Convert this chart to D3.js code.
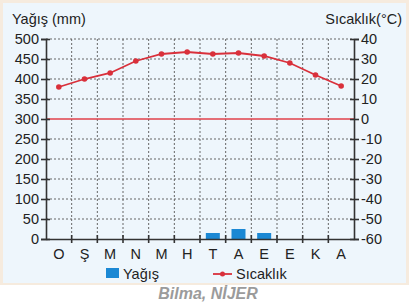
<!DOCTYPE html>
<html>
<head>
<meta charset="utf-8">
<script src="https://cdn.jsdelivr.net/npm/d3@7"></script>
<style>
  body { margin: 0; background: #fff; }
  svg { display: block; font-family: "Liberation Sans", Arial, sans-serif; }
</style>
</head>
<body>
<svg id="chart" width="413" height="304"></svg>
<script>
// months (Turkish initials)
const months = ["O", "Ş", "M", "N", "M", "H", "T", "A", "E", "E", "K", "A"];
// precipitation (mm)
const rain = [0, 0, 0, 0, 0, 0, 15, 25, 15, 0, 0, 0];
// temperature (°C)
const temp = [16, 20, 23, 29, 32.5, 33.5, 32.5, 33, 31.5, 28, 22, 16.5];
const rainTicks = [0, 50, 100, 150, 200, 250, 300, 350, 400, 450, 500];
const tempTicks = [-60, -50, -40, -30, -20, -10, 0, 10, 20, 30, 40];

const svg = d3.select("#chart");
const plotL = 46, plotR = 354, plotT = 39, plotB = 239;

// background frame + panel
svg.append("rect").attr("x", 0).attr("y", 0).attr("width", 409).attr("height", 285).attr("fill", "#f6ebde");
svg.append("rect").attr("x", 3).attr("y", 3).attr("width", 403).attr("height", 280).attr("fill", "#eef6fc");

const x = d3.scaleBand().domain(d3.range(12)).range([plotL, plotR]);
const yP = d3.scaleLinear().domain([0, 500]).range([plotB, plotT]);
const yT = d3.scaleLinear().domain([-60, 40]).range([plotB, plotT]);

// grid
const grid = svg.append("g");
grid.selectAll(".hg")
    .data(rainTicks.filter(d => d !== 0 && d !== 300))
    .enter().append("line")
    .attr("x1", plotL).attr("x2", plotR)
    .attr("y1", d => yP(d)).attr("y2", d => yP(d))
    .attr("stroke", "#666").attr("stroke-width", 1).attr("stroke-dasharray", "2,2");
grid.selectAll(".vg")
    .data(d3.range(1, 12))
    .enter().append("line")
    .attr("x1", d => plotL + d * x.step()).attr("x2", d => plotL + d * x.step())
    .attr("y1", plotT).attr("y2", plotB)
    .attr("stroke", "#666").attr("stroke-width", 1).attr("stroke-dasharray", "2,2");

// 0°C line
svg.append("line")
    .attr("x1", plotL).attr("x2", plotR)
    .attr("y1", yT(0)).attr("y2", yT(0))
    .attr("stroke", "#e0414b").attr("stroke-width", 1.4);

// bars
const bw = 14;
svg.selectAll(".bar")
    .data(rain.map((v, i) => ({ v: v, i: i })).filter(d => d.v > 0))
    .enter().append("rect")
    .attr("x", d => x(d.i) + x.bandwidth() / 2 - bw / 2)
    .attr("y", d => yP(d.v))
    .attr("width", bw)
    .attr("height", d => yP(0) - yP(d.v))
    .attr("fill", "#1b88d4");

// axes
function styleAxis(g) {
    g.selectAll("path").attr("stroke", "#333").attr("stroke-width", 1.6);
    g.selectAll("line").attr("stroke", "#333").attr("stroke-width", 1.6);
    g.selectAll("text").attr("font-size", 14.5).attr("fill", "#222");
}

const axL = svg.append("g")
    .attr("transform", "translate(" + plotL + ",0)")
    .call(d3.axisLeft(yP).tickValues(rainTicks).tickFormat(d => String(d))
        .tickSizeOuter(0).tickSize(5).tickPadding(2));
axL.selectAll(".tick line").attr("x1", 4);
styleAxis(axL);

const axR = svg.append("g")
    .attr("transform", "translate(" + plotR + ",0)")
    .call(d3.axisRight(yT).tickValues(tempTicks).tickFormat(d => String(d))
        .tickSizeOuter(0).tickSize(5).tickPadding(2));
axR.selectAll(".tick line").attr("x1", -4);
styleAxis(axR);

const axB = svg.append("g")
    .attr("transform", "translate(0," + plotB + ")")
    .call(d3.axisBottom(x).tickFormat(i => months[i]).tickSize(0).tickSizeOuter(0).tickPadding(10));
styleAxis(axB);
axB.selectAll(".bt")
    .data(d3.range(1, 12))
    .enter().append("line")
    .attr("x1", d => plotL + d * x.step()).attr("x2", d => plotL + d * x.step())
    .attr("y1", -4).attr("y2", 4)
    .attr("stroke", "#333").attr("stroke-width", 1.6);

// temperature line
const line = d3.line()
    .x((d, i) => x(i) + x.bandwidth() / 2)
    .y(d => yT(d));
svg.append("path")
    .datum(temp)
    .attr("d", line)
    .attr("fill", "none")
    .attr("stroke", "#d9303b")
    .attr("stroke-width", 1.8);
svg.selectAll(".pt")
    .data(temp)
    .enter().append("circle")
    .attr("cx", (d, i) => x(i) + x.bandwidth() / 2)
    .attr("cy", d => yT(d))
    .attr("r", 2.8)
    .attr("fill", "#d9303b");

// axis titles
svg.append("text").attr("x", 12).attr("y", 24).attr("font-size", 14.5).attr("fill", "#222").text("Yağış (mm)");
svg.append("text").attr("x", 402).attr("y", 24).attr("font-size", 14.5).attr("fill", "#222")
    .attr("text-anchor", "end").text("Sıcaklık(°C)");

// legend
svg.append("rect").attr("x", 106).attr("y", 268).attr("width", 13).attr("height", 10).attr("fill", "#1b88d4");
svg.append("text").attr("x", 123).attr("y", 279).attr("font-size", 14.5).attr("fill", "#222").text("Yağış");
svg.append("line").attr("x1", 213).attr("x2", 232).attr("y1", 274).attr("y2", 274)
    .attr("stroke", "#d9303b").attr("stroke-width", 1.8);
svg.append("circle").attr("cx", 222.5).attr("cy", 274).attr("r", 2.5).attr("fill", "#d9303b");
svg.append("text").attr("x", 236).attr("y", 279).attr("font-size", 14.5).attr("fill", "#222").text("Sıcaklık");

// caption
svg.append("text").attr("x", 208).attr("y", 299).attr("text-anchor", "middle")
    .attr("font-size", 16).attr("font-weight", "bold").attr("font-style", "italic")
    .attr("fill", "#9b9b9b").text("Bilma, NİJER");
</script>
</body>
</html>
